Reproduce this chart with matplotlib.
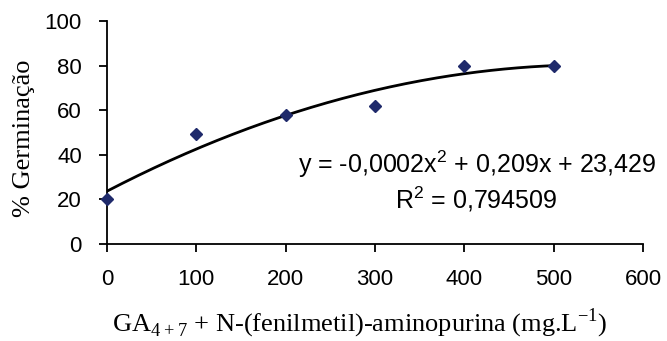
import matplotlib.pyplot as plt
import numpy as np

# data
dose = [0, 100, 200, 300, 400, 500]
germ = [20.3, 49.3, 57.8, 62.0, 79.8, 80.0]
xticks = [0, 100, 200, 300, 400, 500, 600]
yticks = [0, 20, 40, 60, 80, 100]

sans = 'Liberation Sans'
serif = 'Liberation Serif'

fig = plt.figure(figsize=(6.67, 3.41), dpi=100)
ax = fig.add_axes([107/667, 1-244/341, (643-107)/667, (244-21)/341])

# quadratic trend line fitted to the points
coef = np.polyfit(dose, germ, 2)
xx = np.linspace(min(dose), max(dose), 200)
ax.plot(xx, np.polyval(coef, xx), color='black', lw=2, zorder=2)
ax.plot(dose, germ, linestyle='none', marker='D', ms=6.5, color='#1f2a6b', zorder=3, clip_on=False)

ax.set_xlim(0, 600)
ax.set_ylim(0, 100)
ax.set_xticks(xticks)
ax.set_yticks(yticks)
for s in ['top', 'right']:
    ax.spines[s].set_visible(False)
for s in ['left', 'bottom']:
    ax.spines[s].set_linewidth(1.3)
ax.tick_params(direction='out', length=6, width=1.3, labelsize=16)
ax.tick_params(axis='x', pad=12)
ax.tick_params(axis='y', pad=12)
for lab in ax.get_xticklabels() + ax.get_yticklabels():
    lab.set_fontfamily(sans)

# equation text, positions as axes fractions
ax.text((477-107)/536, (244-164)/223, r'y = -0,0002x$^{\mathregular{2}}$ + 0,209x + 23,429',
        family=sans, fontsize=18, ha='center', va='center', transform=ax.transAxes)
ax.text((476-107)/536, (244-199)/223, r'R$^{\mathregular{2}}$ = 0,794509',
        family=sans, fontsize=18, ha='center', va='center', transform=ax.transAxes)

ax.set_ylabel('% Germinação', family=serif, fontsize=19, va='center')
ax.yaxis.set_label_coords(-(107-24)/536, (244-138)/223)
ax.set_xlabel(r'GA$_{\mathregular{4+7}}$ + N-(fenilmetil)-aminopurina (mg.L$^{\mathregular{-1}}$)',
              family=serif, fontsize=19)
ax.xaxis.set_label_coords((360-107)/536, -(323-244)/223)
ax.xaxis.label.set_va('center')

fig.savefig('out.png', dpi=100)
